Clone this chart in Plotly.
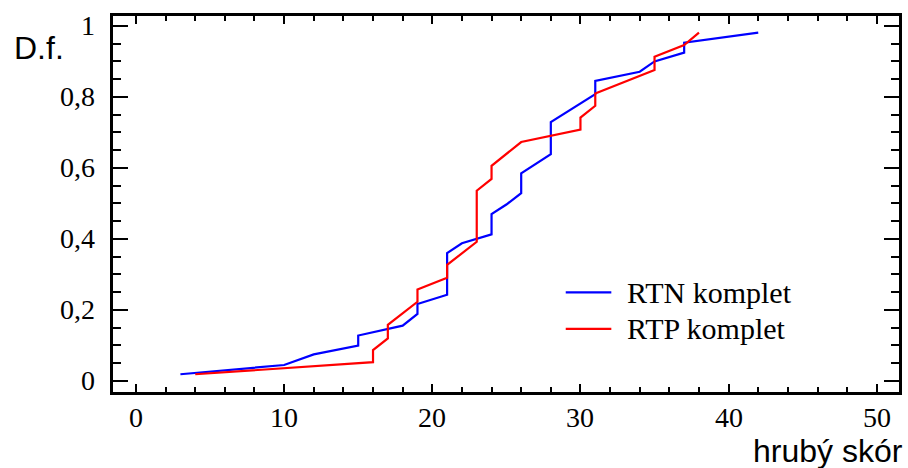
import plotly.graph_objects as go

# Empirical distribution functions of the raw score (hrubý skór)
rtn_x = [3, 10, 12, 15, 15, 18, 19, 19, 21, 21, 22, 24, 24, 25, 26, 26, 28, 28,
         31, 31, 34, 35, 37, 37, 42]
rtn_y = [0.019, 0.045, 0.075, 0.100, 0.128, 0.156, 0.189, 0.217, 0.243, 0.360,
         0.388, 0.413, 0.470, 0.497, 0.529, 0.585, 0.639, 0.729,
         0.808, 0.845, 0.871, 0.900, 0.925, 0.953, 0.981]

rtp_x = [4, 16, 16, 17, 17, 19, 19, 21, 21, 23, 23, 24, 24, 26, 30, 30, 31, 31,
         35, 35, 37, 38]
rtp_y = [0.019, 0.053, 0.087, 0.120, 0.158, 0.223, 0.258, 0.291, 0.327, 0.392,
         0.536, 0.569, 0.606, 0.673, 0.708, 0.742, 0.775, 0.810,
         0.876, 0.913, 0.946, 0.981]

series_names = ["RTN komplet", "RTP komplet"]
series_colors = ["#0000FF", "#FF0000"]

x_ticks = [0, 10, 20, 30, 40, 50]
x_tick_text = ["0", "10", "20", "30", "40", "50"]
y_ticks = [0, 0.2, 0.4, 0.6, 0.8, 1]
y_tick_text = ["0", "0,2", "0,4", "0,6", "0,8", "1"]

serif = "Times New Roman"
sans = "Liberation Sans"
tick_font = dict(family=serif, size=28, color="black")

fig = go.Figure()
for xs, ys, name, color in zip([rtn_x, rtp_x], [rtn_y, rtp_y], series_names, series_colors):
    fig.add_trace(go.Scatter(x=xs, y=ys, mode="lines", name=name,
                             line=dict(color=color, width=2.2),
                             showlegend=False))

# Serif tick labels placed at the tick values on each axis
for v, t in zip(x_ticks, x_tick_text):
    fig.add_annotation(text=t, x=v, xref="x", y=-0.069, yref="paper",
                       xanchor="center", yanchor="middle", showarrow=False,
                       font=tick_font)
for v, t in zip(y_ticks, y_tick_text):
    fig.add_annotation(text=t, x=-0.02, xref="paper", y=v, yref="y",
                       xanchor="right", yanchor="middle", showarrow=False,
                       font=tick_font)

# Legend drawn as line samples with serif labels
legend_y = [0.265, 0.168]
for name, color, ly in zip(series_names, series_colors, legend_y):
    fig.add_shape(type="line", xref="paper", yref="paper",
                  x0=0.576, x1=0.634, y0=ly, y1=ly,
                  line=dict(color=color, width=2.2))
    fig.add_annotation(text=name, xref="paper", yref="paper",
                       x=0.651, y=ly, xanchor="left", yanchor="middle",
                       showarrow=False, font=dict(family=serif, size=30, color="black"))

fig.add_annotation(text="D.f.", xref="paper", yref="paper",
                   x=-0.128, y=0.915, xanchor="left", yanchor="middle",
                   showarrow=False, font=dict(family=sans, size=32, color="black"))
fig.add_annotation(text="hrubý skór", xref="paper", yref="paper",
                   x=1.008, y=-0.157, xanchor="right", yanchor="middle",
                   showarrow=False, font=dict(family=sans, size=32, color="black"))

fig.update_layout(
    width=908, height=468,
    margin=dict(l=113, r=6, t=16, b=76),
    paper_bgcolor="white", plot_bgcolor="white",
    font=dict(family=serif, size=28, color="black"),
    xaxis=dict(
        range=[-1.55, 51.5], tickvals=x_ticks, ticklen=8, showticklabels=False,
        showgrid=False, zeroline=False, showline=True, linecolor="black",
        linewidth=3, mirror="allticks", ticks="inside", tickcolor="black",
        tickwidth=2,
        minor=dict(dtick=2, ticks="inside", ticklen=5, tickwidth=2,
                   tickcolor="black", showgrid=False),
    ),
    yaxis=dict(
        range=[-0.031, 1.028], tickvals=y_ticks, ticklen=15, showticklabels=False,
        showgrid=False, zeroline=False, showline=True, linecolor="black",
        linewidth=3, mirror="allticks", ticks="inside", tickcolor="black",
        tickwidth=2,
        minor=dict(dtick=0.05, ticks="inside", ticklen=8, tickwidth=2,
                   tickcolor="black", showgrid=False),
    ),
)

fig.write_html("out.html")
